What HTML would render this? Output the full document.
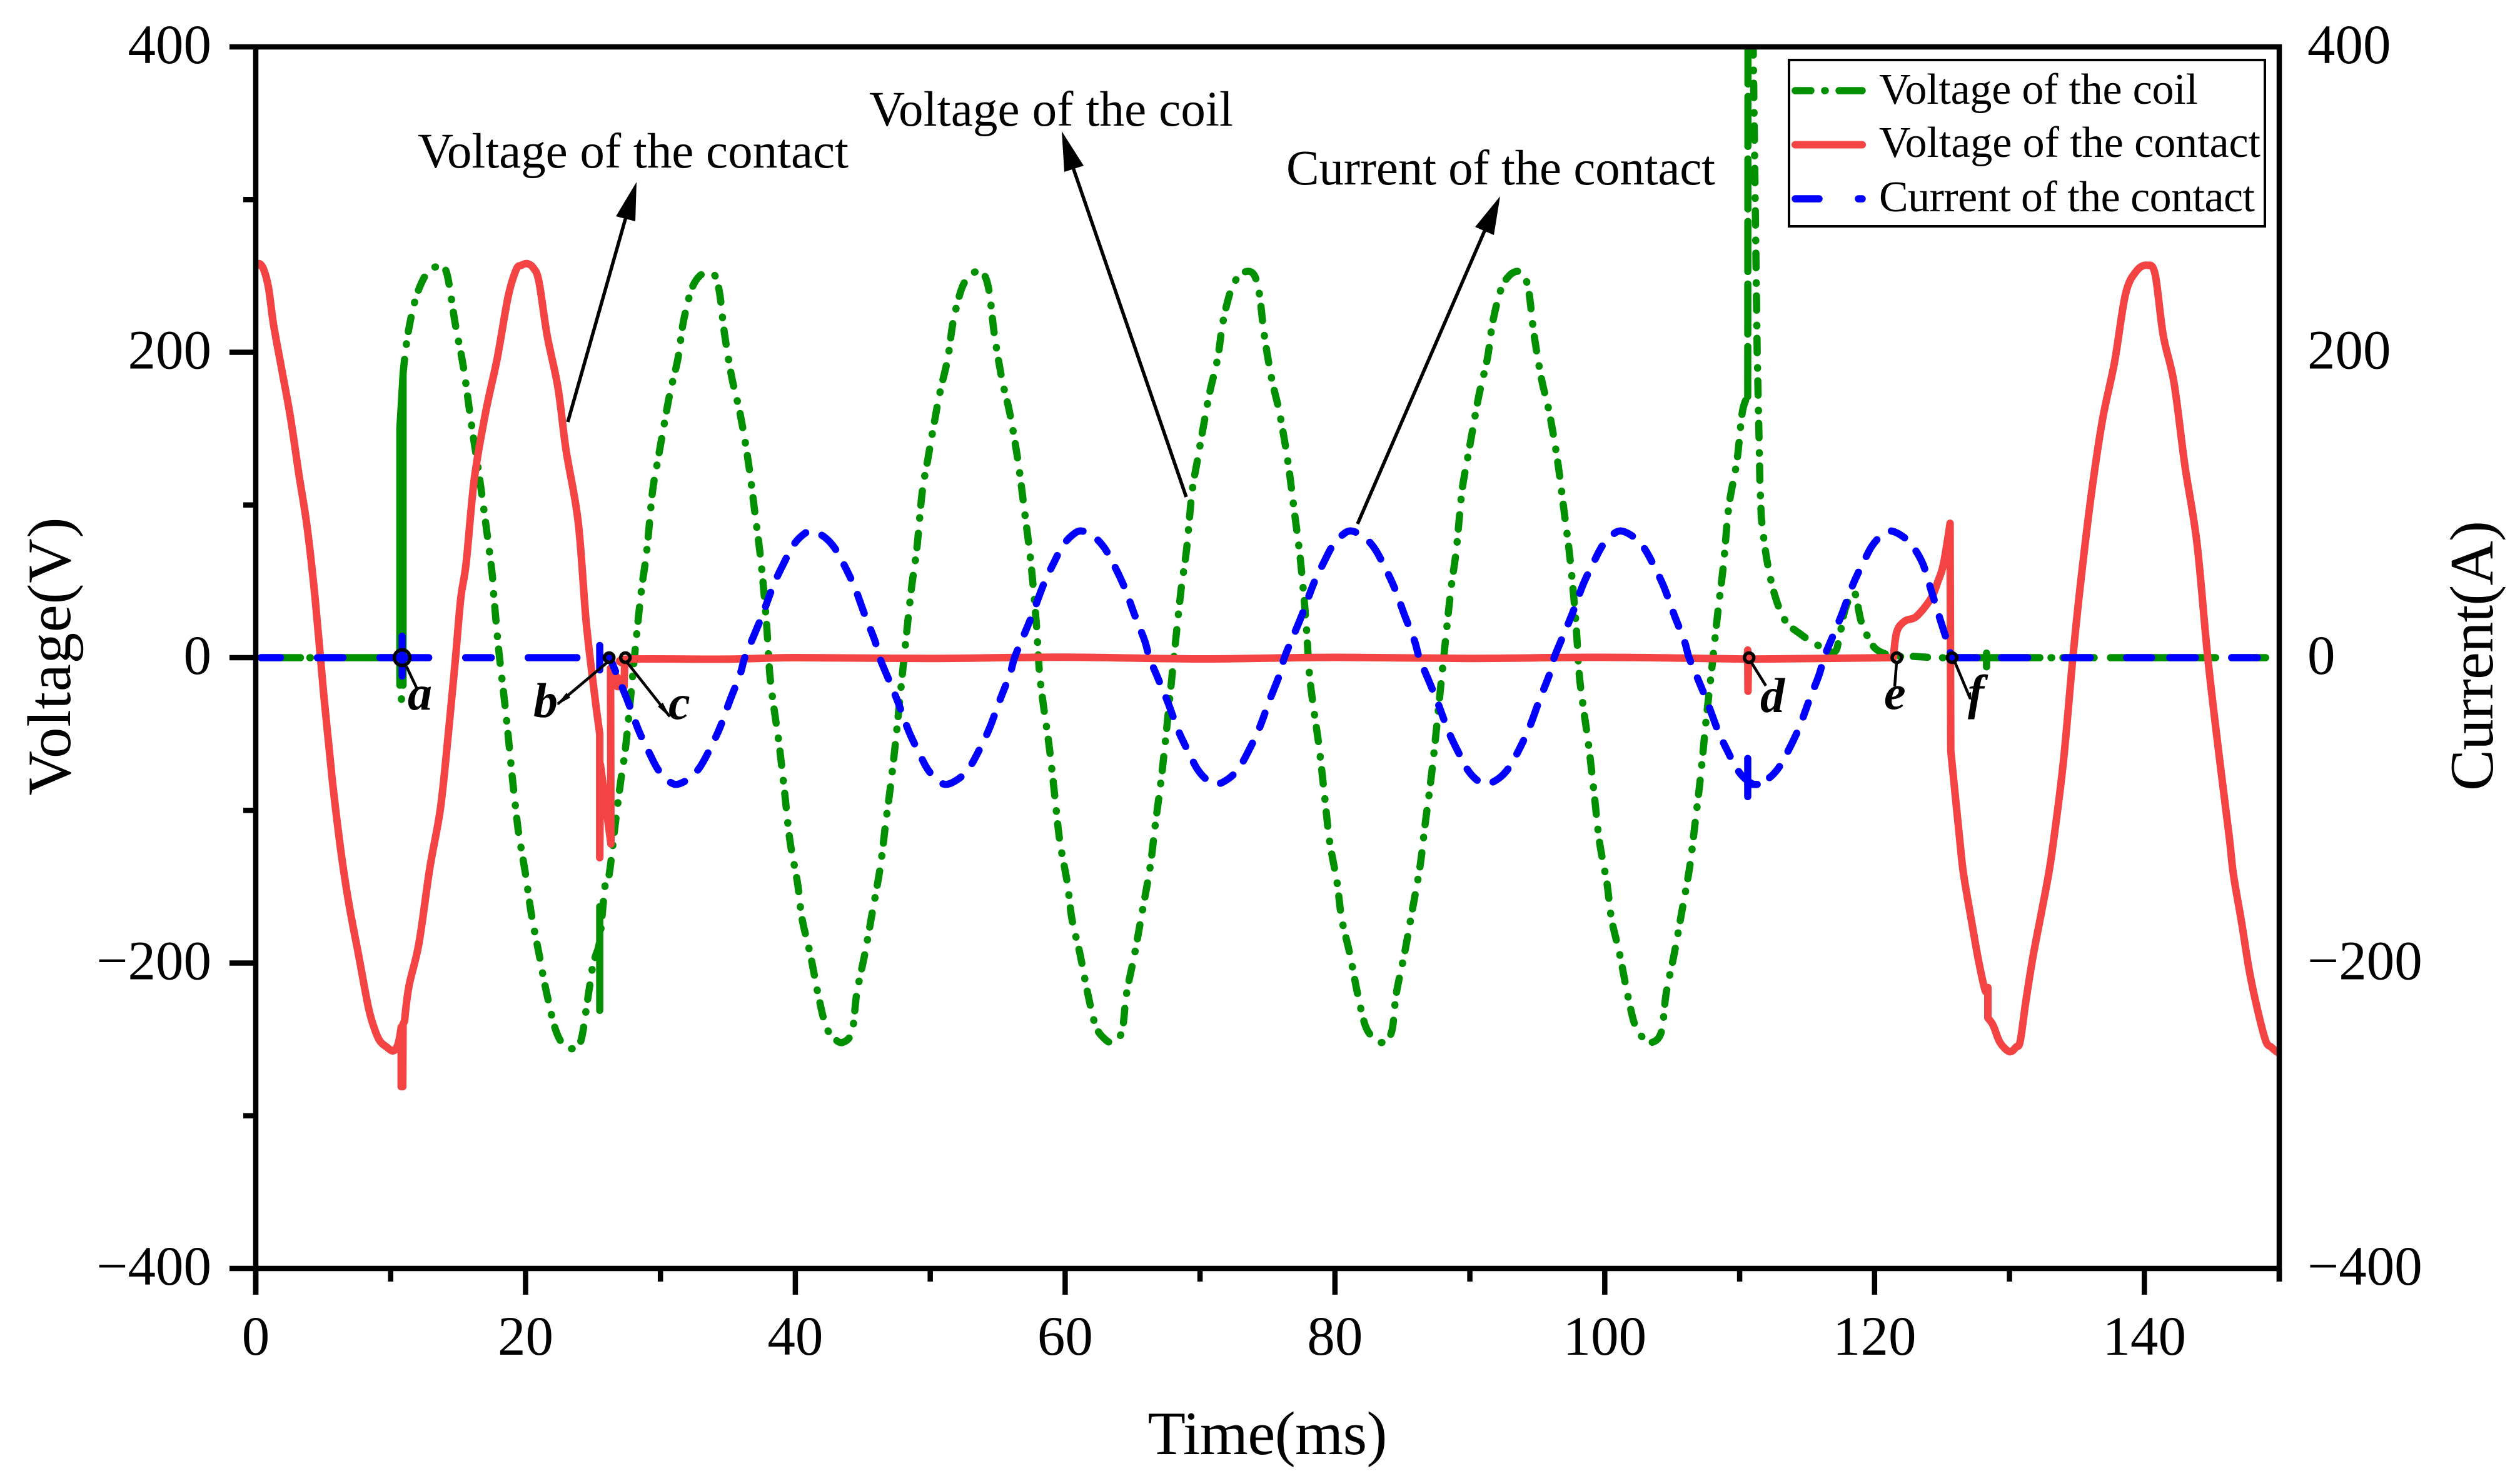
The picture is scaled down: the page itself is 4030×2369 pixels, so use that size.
<!DOCTYPE html>
<html lang="en">
<head>
<meta charset="utf-8">
<title>Voltage and current waveforms</title>
<style>
html,body{margin:0;padding:0;background:#fff;}
svg{display:block;}
text{font-family:"Liberation Serif","Times New Roman",serif;fill:#000;}
.tick{font-size:89px;}
.title{font-size:99px;}
.note{font-size:79px;}
.leg{font-size:70px;}
.ev{font-size:78px;font-weight:bold;font-style:italic;}
.coil,.contact,.current{fill:none;stroke-width:11.5;stroke-linecap:round;stroke-linejoin:round;}
.coil{stroke:#009000;}
.contact{stroke:#F44343;stroke-width:12;}
.current{stroke:#0000FF;}
.ax{stroke:#000;stroke-width:8.5;fill:none;}
.lead{stroke:#000;stroke-width:4.5;fill:none;}
.arrowline{stroke:#000;stroke-width:5.5;fill:none;}
</style>
</head>
<body>
<svg id="chart" xmlns="http://www.w3.org/2000/svg" width="4030" height="2369" viewBox="0 0 4030 2369">
  <rect x="0" y="0" width="4030" height="2369" fill="#fff"/>
  <defs><clipPath id="plotClip"><rect x="405" y="71" width="3244" height="1962"/></clipPath></defs>
  <g id="series" clip-path="url(#plotClip)"></g>
  <g id="axes"></g>

  <text class="title" x="2027" y="2326" text-anchor="middle" textLength="383">Time(ms)</text>
  <text class="title" transform="translate(112,1050) rotate(-90)" text-anchor="middle" textLength="445">Voltage(V)</text>
  <text class="title" transform="translate(3986,1049) rotate(-90)" text-anchor="middle" textLength="432">Current(A)</text>

  <g>
    <text class="note" x="668" y="268" textLength="689">Voltage of the contact</text>
    <line class="arrowline" x1="908" y1="675" x2="1003" y2="340"/>
    <polygon points="1018,291 985,346 1016,354" fill="#000"/>
  </g>
  <g>
    <text class="note" x="1390" y="201" textLength="582">Voltage of the coil</text>
    <line class="arrowline" x1="1897" y1="795" x2="1715" y2="265"/>
    <polygon points="1698,210 1702,275 1733,265" fill="#000"/>
  </g>
  <g>
    <text class="note" x="2057" y="295" textLength="686">Current of the contact</text>
    <line class="arrowline" x1="2171" y1="838" x2="2376" y2="365"/>
    <polygon points="2399,314 2359,363 2389,376" fill="#000"/>
  </g>

  <g>
    <line class="lead" x1="650" y1="1066" x2="667" y2="1102"/>
    <line class="lead" x1="973" y1="1058" x2="892" y2="1126"/>
    <polygon points="890,1128 906,1108 912,1116" fill="#000"/>
    <line class="lead" x1="1004" y1="1061" x2="1071" y2="1146"/>
    <polygon points="1072,1148 1052,1130 1060,1124" fill="#000"/>
    <line class="lead" x1="2801" y1="1060" x2="2824" y2="1097"/>
    <line class="lead" x1="3033" y1="1060" x2="3030" y2="1098"/>
    <line class="lead" x1="3125" y1="1056" x2="3151" y2="1118"/>
    <polygon points="3153,1121 3145,1110 3152,1107" fill="#000"/>
  </g>
  <g id="events"></g>
  <text class="ev" x="652" y="1135">a</text>
  <text class="ev" x="853" y="1147">b</text>
  <text class="ev" x="1069" y="1150">c</text>
  <text class="ev" x="2815" y="1139">d</text>
  <text class="ev" x="3013" y="1134">e</text>
  <text class="ev" x="3147" y="1134">f</text>

  <g>
    <rect x="2861" y="96" width="761" height="266" fill="#fff" stroke="#000" stroke-width="4"/>
    <g>
      <line class="coil" x1="2871" y1="145" x2="2978" y2="145" stroke-dasharray="25 22 1 22 37"/>
      <text class="leg" x="3005" y="166" textLength="510">Voltage of the coil</text>
    </g>
    <g>
      <line class="contact" x1="2871" y1="231.5" x2="2978" y2="231.5"/>
      <text class="leg" x="3005" y="251" textLength="610">Voltage of the contact</text>
    </g>
    <g>
      <line class="current" x1="2871" y1="318" x2="2978" y2="318" stroke-dasharray="38 63 6"/>
      <text class="leg" x="3005" y="338" textLength="601">Current of the contact</text>
    </g>
  </g>
</svg>
<script>
/* ---- tick values ---- */
var xMajorTicks = [0, 20, 40, 60, 80, 100, 120, 140];
var xMinorTicks = [10, 30, 50, 70, 90, 110, 130, 150];
var yMajorTicks = [-400, -200, 0, 200, 400];
var yMinorTicks = [-300, -100, 100, 300];
var yTickLabels = ['\u2212400', '\u2212200', '0', '200', '400'];

/* ---- coil voltage [ms, V] ---- */
var coilBeforeClose = [[0.4,0],[10.7,0]];
var coilCloseBurst = [[10.68,-18],[10.68,150],[10.92,186],[10.92,-18]];
var coilCloseDot = [[10.8,-27],[10.8,-27.3]];
var coilJump = [[25.5,-231],[25.5,-163]];
var coilWave = [[10.92,186],[11.26,211],[11.88,236],[12.7,252],[13.5,256],[14.15,252],[14.8,218],[15.4,190],[16,152],[16.6,117],[17.47,59],[17.66,39],[18,6],[18.4,-25],[18.7,-50],[19,-77],[19.4,-109],[19.6,-121],[20,-142],[20.45,-169],[21,-194],[21.5,-217],[22.2,-243],[22.85,-254],[23.5,-256],[24.1,-251],[24.6,-224],[25,-201],[25.2,-195],[25.5,-185],[25.9,-149],[26.2,-142],[26.65,-109],[27.05,-81],[27.4,-60],[27.8,-25],
[28.2,12],[28.6,45],[29,71],[29.4,108],[29.8,129],[30.2,149],[30.7,173],[31.3,196],[31.7,220],[32.3,241],[32.9,250],[33.55,252],[34.05,250],[34.4,238],[34.75,212],[35.3,183],[35.9,160],[36.5,129],[37,95],[37.45,63],[37.85,24],[38.1,-10],[38.4,-32],[38.8,-57],[39.2,-88],[39.6,-120],[40.15,-147],[40.5,-171],[41.1,-194],[41.7,-221],[42.25,-241],[42.85,-249],[43.5,-252],[44.2,-245],[44.55,-220],[45.15,-194],[45.7,-167],[46.3,-137],[46.7,-108],[47.1,-81],[47.45,-53],[47.85,-18],
[48.2,12],[48.6,45],[49,71],[49.4,108],[49.8,129],[50.2,149],[50.7,173],[51.3,196],[51.7,220],[52.3,241],[52.9,250],[53.55,253],[54.05,250],[54.4,238],[54.75,212],[55.3,183],[55.9,160],[56.5,129],[57,95],[57.45,63],[57.85,24],[58.1,-10],[58.4,-32],[58.8,-57],[59.2,-88],[59.6,-120],[60.15,-147],[60.5,-171],[61.1,-194],[61.7,-221],[62.25,-241],[62.85,-249],[63.5,-252],[64.2,-245],[64.55,-220],[65.15,-194],[65.7,-167],[66.3,-137],[66.7,-108],[67.1,-81],[67.45,-53],[67.85,-18],
[68.2,12],[68.6,45],[69,71],[69.4,108],[69.8,129],[70.2,149],[70.7,173],[71.3,196],[71.7,220],[72.3,241],[72.9,250],[73.55,253],[74.05,250],[74.4,238],[74.75,212],[75.3,183],[75.9,160],[76.5,129],[77,95],[77.45,63],[77.85,24],[78.1,-10],[78.4,-32],[78.8,-57],[79.2,-88],[79.6,-120],[80.15,-147],[80.5,-171],[81.1,-194],[81.7,-221],[82.25,-241],[82.85,-249],[83.5,-252],[84.2,-245],[84.55,-220],[85.15,-194],[85.7,-167],[86.3,-137],[86.7,-108],[87.1,-81],[87.45,-53],[87.85,-18],
[88.2,12],[88.6,45],[89,71],[89.4,108],[89.8,129],[90.2,149],[90.7,173],[91.3,196],[91.7,220],[92.3,241],[92.9,250],[93.55,253],[94.05,250],[94.4,238],[94.75,212],[95.3,183],[95.9,160],[96.5,129],[97,95],[97.45,63],[97.85,24],[98.1,-10],[98.4,-32],[98.8,-57],[99.2,-88],[99.6,-120],[100.15,-147],[100.5,-171],[101.1,-194],[101.7,-221],[102.25,-241],[102.85,-249],[103.5,-252],[104.2,-245],[104.55,-220],[105.15,-194],[105.7,-167],[106.3,-137],[106.7,-108],[107.1,-78],[107.5,-42],[107.9,-10],
[108.4,31],[108.8,61],[109.2,99],[109.8,129],[110.2,161],[110.6,171]];
var coilSpikeUp = [[110.6,171],[110.62,400],[111.0,404]];
var coilDecay = [[111.0,404],[111.15,300],[111.3,200],[111.44,143],[111.5,116],[111.6,92],[112,65],[112.6,41],[113.4,24],[114.5,15.5],[115.7,8.6],[117,3.7],[117.4,14],[117.8,31],[118.3,41.5],[118.6,41],[119,24],[119.6,12],[120.2,5],[121.4,1],[122.5,1],[123.5,0.5],[124.5,0],[125.9,0]];
var coilTail = [[125.9,0],[149.1,0]];
var coilNub = [[128.3,3],[128.3,-6]];

/* ---- contact voltage [ms, V] ---- */
var contactVoltage = [[0,256],[0.28,258],[0.6,254],[0.95,242],[1.32,218],[1.9,190],[2.56,158],[3.2,120],[3.8,86],[4.4,39],[5.05,-25],[5.66,-79],[6.3,-126],[6.9,-161],[7.65,-196],[8.35,-229],[8.8,-243],[9.2,-251],[9.7,-255],[10.2,-257.5],[10.55,-253],[10.78,-242],[10.78,-281],[10.9,-281],[10.92,-240],[11.03,-238],[11.36,-215],[12.1,-187],[12.9,-138],[13.7,-98],[14.35,-43],[14.8,-1],[15.2,39],[15.6,62],[16.2,117],[17.05,161],[17.9,196],[18.7,236],[19.3,254],[19.7,257],[20.15,258],[20.6,255],[21,246],[21.6,211],[22.4,177],[23,136],[23.9,89],[24.5,23],[25.1,-23],[25.5,-50],[25.5,-131],[25.55,-70],[26.33,-122],[26.3,-7],[26.8,-13],[26.8,-19],[27.3,-19],[27.35,-4],[27.6,-1],[35,-1],[40,0],[50,-0.5],[60,0.3],[70,-0.8],[80,0.2],[90,-0.5],[100,0.2],[110.55,-1],[110.6,5],[110.62,-22],[110.65,-1],[121.3,0],[121.4,0],[121.65,17],[122.25,24],[123.1,27],[124.2,39],[124.7,50],[125.1,61],[125.6,88],[125.65,-61],[126.3,-118],[126.6,-142],[127.2,-173],[127.7,-198],[128.2,-218],[128.4,-216],[128.4,-236],[128.8,-241],[129.3,-252],[130,-258],[130.5,-255],[130.8,-251],[131.2,-226],[131.7,-198],[132.3,-170],[132.9,-142],[133.3,-118],[134,-68],[134.7,0],[135.3,51],[136.1,109],[136.9,156],[137.8,194],[138.6,238],[139.4,253],[140.2,257],[140.8,251],[141.4,211],[142.2,180],[143,126],[143.9,75],[144.7,0],[145.5,-61],[146.3,-118],[146.6,-142],[147.2,-173],[147.8,-206],[148.4,-231],[149,-251],[149.4,-255],[149.8,-258],[150,-259]];

/* ---- contact current [ms, A] ---- */
var currentBefore = [[0.4,0],[25.3,0]];
var currentCloseSpike = [[10.85,14],[10.85,-12]];
var currentJump = [[25.5,8],[25.5,-8]];
var currentWave = [[26.25,0],[26.95,-15],[27.6,-29],[28.4,-48],[29.15,-62],[29.8,-73],[30.5,-80],[31.2,-83],[32.15,-79],[32.9,-72],[33.6,-61],[34.4,-46],[35.15,-28],[35.9,-11],
[36.25,0],[36.95,15],[37.6,29],[38.4,48],[39.15,62],[39.8,73],[40.5,80],[41.2,83],[42.15,79],[42.9,72],[43.6,61],[44.4,46],[45.15,28],[45.9,11],
[46.25,0],[46.95,-15],[47.6,-29],[48.4,-48],[49.15,-62],[49.8,-73],[50.5,-80],[51.2,-83],[52.15,-79],[52.9,-72],[53.6,-61],[54.4,-46],[55.15,-28],[55.9,-11],
[56.25,0],[56.95,15],[57.6,29],[58.4,48],[59.15,62],[59.8,73],[60.5,80],[61.2,83],[62.15,79],[62.9,72],[63.6,61],[64.4,46],[65.15,28],[65.9,11],
[66.25,0],[66.95,-15],[67.6,-29],[68.4,-48],[69.15,-62],[69.8,-73],[70.5,-80],[71.2,-83],[72.15,-79],[72.9,-72],[73.6,-61],[74.4,-46],[75.15,-28],[75.9,-11],
[76.25,0],[76.95,15],[77.6,29],[78.4,48],[79.15,62],[79.8,73],[80.5,80],[81.2,83],[82.15,79],[82.9,72],[83.6,61],[84.4,46],[85.15,28],[85.9,11],
[86.25,0],[86.95,-15],[87.6,-29],[88.4,-48],[89.15,-62],[89.8,-73],[90.5,-80],[91.2,-83],[92.15,-79],[92.9,-72],[93.6,-61],[94.4,-46],[95.15,-28],[95.9,-11],
[96.25,0],[96.95,15],[97.6,29],[98.4,48],[99.15,62],[99.8,73],[100.5,80],[101.2,83],[102.15,79],[102.9,72],[103.6,61],[104.4,46],[105.15,28],[105.9,11],
[106.25,0],[106.95,-15],[107.6,-29],[108.4,-48],[109.15,-62],[109.8,-73],[110.5,-80],[111.2,-83],[112.15,-79],[112.9,-72],[113.6,-61],[114.4,-46],[115.15,-28],[115.9,-11],
[116.25,0],[116.95,15],[117.6,29],[118.4,48],[119.15,62],[119.8,73],[120.5,80],[121.2,83],[122.15,79],[122.9,72],[123.6,61],[124.2,44],[124.9,24],[125.4,10],[125.7,0]];
var currentOpenSpike = [[110.6,-66],[110.6,-91]];
var currentOpenBar = [[110.6,-83],[111.3,-83]];
var currentAfter = [[125.7,0],[148.5,0]];

/* ---- event markers a-f [ms, V] ---- */
var eventTimes = [10.85, 26.2, 27.4, 110.7, 121.65, 125.75];
var eventValues = [0, 0, 0, 0, 0, 0];

/* ---- axis functions ---- */
var plotLeft = 409, plotRight = 3645, plotTop = 75, plotBottom = 2029;
function xAxis(t) { return plotLeft + (t / 150) * (plotRight - plotLeft); }
function yAxis(v) { return plotBottom - ((v + 400) / 800) * (plotBottom - plotTop); }

var NS = 'http://www.w3.org/2000/svg';
var seriesLayer = document.getElementById('series');
var axesLayer = document.getElementById('axes');
var eventsLayer = document.getElementById('events');

/* Smooth between well-spaced samples; keep sharp corners at near-vertical jumps. */
function tangentAt(samples, i) {
  if (i === 0 || i === samples.length - 1) { return [0, 0]; }
  var dtPrev = samples[i][0] - samples[i - 1][0];
  var dtNext = samples[i + 1][0] - samples[i][0];
  if (Math.abs(dtPrev) < 0.18 || Math.abs(dtNext) < 0.18) { return [0, 0]; }
  return [
    (xAxis(samples[i + 1][0]) - xAxis(samples[i - 1][0])) / 6,
    (yAxis(samples[i + 1][1]) - yAxis(samples[i - 1][1])) / 6
  ];
}
function makePath(samples, cls, dash) {
  var d = 'M' + xAxis(samples[0][0]).toFixed(1) + ' ' + yAxis(samples[0][1]).toFixed(1);
  for (var i = 1; i < samples.length; i++) {
    var a = tangentAt(samples, i - 1), b = tangentAt(samples, i);
    var x0 = xAxis(samples[i - 1][0]), y0 = yAxis(samples[i - 1][1]);
    var x1 = xAxis(samples[i][0]), y1 = yAxis(samples[i][1]);
    d += 'C' + (x0 + a[0]).toFixed(1) + ' ' + (y0 + a[1]).toFixed(1) + ' ' +
         (x1 - b[0]).toFixed(1) + ' ' + (y1 - b[1]).toFixed(1) + ' ' +
         x1.toFixed(1) + ' ' + y1.toFixed(1);
  }
  var p = document.createElementNS(NS, 'path');
  p.setAttribute('d', d);
  p.setAttribute('class', cls);
  if (dash) { p.setAttribute('stroke-dasharray', dash); }
  seriesLayer.appendChild(p);
  return p;
}
function makeLine(x1, y1, x2, y2) {
  var l = document.createElementNS(NS, 'line');
  l.setAttribute('x1', x1);
  l.setAttribute('y1', y1);
  l.setAttribute('x2', x2);
  l.setAttribute('y2', y2);
  l.setAttribute('class', 'ax');
  axesLayer.appendChild(l);
  return l;
}
function makeLabel(x, y, str, anchor) {
  var t = document.createElementNS(NS, 'text');
  t.setAttribute('x', x);
  t.setAttribute('y', y);
  t.setAttribute('class', 'tick');
  t.setAttribute('text-anchor', anchor);
  t.textContent = str;
  axesLayer.appendChild(t);
  return t;
}

var el;
var coilDash = '23 24 1 20';

/* coil voltage */
el = makePath(coilBeforeClose, 'coil', '63 15 1 15 400');


el = makePath(coilCloseBurst, 'coil');


el = makePath(coilCloseDot, 'coil');


el = makePath(coilWave, 'coil', coilDash);


el = makePath(coilJump, 'coil');


el = makePath(coilSpikeUp, 'coil', '80 20');


el = makePath(coilDecay, 'coil', coilDash);


el = makePath(coilTail, 'coil', '137 18 1 18 50 26 168 26 54');


el = makePath(coilNub, 'coil');



/* contact voltage */
el = makePath(contactVoltage, 'contact');



/* contact current */
el = makePath(currentBefore, 'current', '31 59 41 59 78 59 41 59 78 400');


el = makePath(currentCloseSpike, 'current');


el = makePath(currentJump, 'current');


el = makePath(currentWave, 'current', '24 28 32 28');


el = makePath(currentOpenSpike, 'current');


el = makePath(currentOpenBar, 'current');


el = makePath(currentAfter, 'current', '41 39 42 59 41 58 40 29 41 58 41 400');



/* axes frame */
el = makeLine(plotLeft, plotTop - 4, plotLeft, plotBottom + 42);


el = makeLine(plotRight, plotTop - 4, plotRight, plotBottom + 21);


el = makeLine(plotLeft, plotTop, plotRight + 4, plotTop);


el = makeLine(plotLeft, plotBottom, plotRight + 4, plotBottom);



xMajorTicks.forEach(function (t) {
  var m = makeLine(xAxis(t), plotBottom, xAxis(t), plotBottom + 42);
  
  
  var lab = makeLabel(xAxis(t), 2167, String(t), 'middle');
  
  
});
xMinorTicks.forEach(function (t) {
  var m = makeLine(xAxis(t), plotBottom, xAxis(t), plotBottom + 21);
  
  
});
yMajorTicks.forEach(function (v, i) {
  var m = makeLine(367, yAxis(v), plotLeft, yAxis(v));
  
  
  var left = makeLabel(338, yAxis(v) + 26, yTickLabels[i], 'end');
  
  
  var right = makeLabel(3690, yAxis(v) + 26, yTickLabels[i], 'start');
  
  
});
yMinorTicks.forEach(function (v) {
  var m = makeLine(389, yAxis(v), plotLeft, yAxis(v));
  
  
});

/* event markers */
eventTimes.forEach(function (t, i) {
  var c = document.createElementNS(NS, 'circle');
  c.setAttribute('cx', xAxis(t).toFixed(1));
  c.setAttribute('cy', yAxis(eventValues[i]).toFixed(1));
  c.setAttribute('r', i === 0 ? 12.5 : 7.5);
  c.setAttribute('fill', 'none');
  c.setAttribute('stroke', '#000');
  c.setAttribute('stroke-width', '5.5');
  
  
  eventsLayer.appendChild(c);
});
</script>
</body>
</html>
